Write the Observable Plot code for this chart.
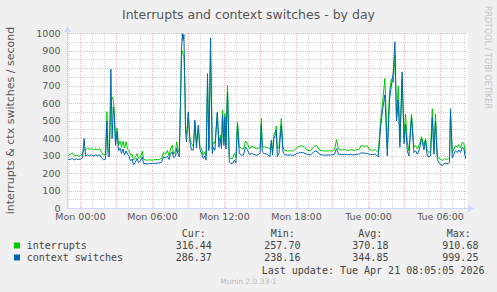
<!DOCTYPE html>
<html><head><meta charset="utf-8">
<script src="https://cdn.jsdelivr.net/npm/d3@7"></script>
<script src="https://cdn.jsdelivr.net/npm/@observablehq/plot@0.6"></script>
<style>
html,body{margin:0;padding:0;background:#F0F0F0;}
#wrap{position:relative;width:497px;height:292px;background:#F0F0F0;overflow:hidden;}
#wrap svg{position:absolute;left:0;top:0;}
</style></head><body><div id="wrap"></div>
<script>
// minutes since Mon 00:00
const minutes = [
-60,-50,-40,-30,-20,-10,0,10,18,25,
35,45,55,65,75,85,95,105,115,125,
132,138,144,152,158,164,169,175,183,190,
198,205,213,220,228,235,243,250,258,265,
273,283,290,300,309,315,330,345,360,375,
390,405,415,425,435,443,450,459,465,475,
481,489,494,500,505,509,513,517,522,525,
530,539,547,555,564,572,580,589,597,605,
614,622,628,635,642,650,659,664,672,684,
692,700,705,710,717,722,727,735,744,752,
760,769,777,785,794,805,815,825,835,845,
855,867,878,890,898,904,909,918,930,940,
947,954,960,967,974,979,984,992,1004,1012,
1020,1035,1050,1065,1084,1100,1117,1134,1150,1165,
1175,1184,1195,1210,1225,1240,1255,1270,1280,1290,
1305,1320,1335,1350,1365,1380,1395,1403,1420,1435,
1445,1460,1475,1489,1500,1510,1522,1534,1545,1554,
1564,1572,1580,1589,1597,1608,1618,1625,1634,1642,
1655,1667,1675,1685,1695,1705,1717,1725,1734,1743,
1750,1759,1767,1775,1784,1793,1809,1820,1830,1840,
1845,1850,1859,1867,1875,1884,1892,1900,1909,1917,
1925];
const interrupts = [
305,308,318,302,305,300,302,315,340,335,
345,338,342,335,340,335,342,322,305,310,
553,330,320,600,638,620,560,380,460,360,
385,350,385,345,382,340,330,305,310,276,
290,314,285,292,328,282,276,278,276,280,
280,286,320,310,332,300,340,362,310,330,
381,330,320,620,905,900,880,870,700,457,
420,540,400,371,355,490,371,465,352,343,
305,324,300,700,343,880,333,381,371,543,
381,419,360,562,381,543,362,705,295,286,
286,314,290,495,352,343,340,385,370,340,
355,352,340,345,350,514,352,352,350,345,
340,371,330,423,438,472,340,352,514,352,
333,328,330,328,350,358,355,333,330,350,
362,355,333,330,328,330,328,335,394,340,
333,338,330,336,332,335,340,360,356,358,
335,333,335,320,500,600,743,340,660,740,
720,880,520,700,380,740,400,540,380,330,
540,350,360,340,370,410,360,400,330,320,
330,570,330,540,300,285,275,285,280,285,
290,540,320,340,360,350,365,345,380,370,
316];
const contextSwitches = [
280,282,285,278,283,280,282,290,400,300,
306,302,306,300,306,302,306,290,278,282,
500,300,295,796,400,580,520,360,440,330,
345,315,340,305,330,310,298,272,282,248,
262,286,262,272,295,258,255,257,258,258,
260,262,295,288,300,280,310,324,290,300,
345,305,295,600,900,999,960,995,700,450,
380,552,380,333,335,505,345,476,340,314,
286,300,276,771,330,975,314,350,333,552,
350,400,343,533,360,524,340,667,267,257,
257,276,260,476,314,305,305,352,335,308,
315,310,305,308,318,480,324,314,312,305,
295,390,305,400,419,448,295,314,476,324,
309,305,306,304,315,320,318,309,306,322,
328,325,309,306,305,306,305,310,343,310,
309,310,307,309,306,309,312,318,316,314,
309,309,310,295,460,560,650,300,620,700,
780,952,500,620,350,780,370,480,330,300,
520,320,330,310,340,400,335,390,300,295,
300,520,310,500,280,260,244,260,257,258,
262,570,290,310,330,320,335,320,350,340,
286];

const seriesNames = ["interrupts", "context switches"];
const seriesColors = ["#00CC00", "#0066B3"];
const xTickMinutes = [0, 360, 720, 1080, 1440, 1800];
const xTickLabels = ["Mon 00:00", "Mon 06:00", "Mon 12:00", "Mon 18:00", "Tue 00:00", "Tue 06:00"];
const yTicks = [0, 100, 200, 300, 400, 500, 600, 700, 800, 900, 1000];
const xDomain = [-65, 1935];
const yDomain = [0, 1000];
const statHeaders = ["Cur:", "Min:", "Avg:", "Max:"];
const statsInterrupts = ["316.44", "257.70", "370.18", "910.68"];
const statsContext = ["286.37", "238.16", "344.85", "999.25"];
const titleText = "Interrupts and context switches - by day";
const yLabelText = "interrupts & ctx switches / second";
const lastUpdate = "Last update: Tue Apr 21 08:05:05 2026";
const footer = "Munin 2.0.33-1";
const watermark = "RRDTOOL / TOBI OETIKER";

const rowsI = minutes.map((m, i) => ({m, v: interrupts[i]}));
const rowsC = minutes.map((m, i) => ({m, v: contextSwitches[i]}));

const minorX = d3.range(-60, xDomain[1], 60).filter(m => m % 180 !== 0);
const majorX = d3.range(0, xDomain[1], 180);
const minorY = d3.range(50, 1000, 100);
const majorY = d3.range(100, 1001, 100);

const gridGray = "rgba(150,150,150,0.4)";
const gridRed = "rgba(255,60,60,0.38)";

const chart = Plot.plot({
  width: 497, height: 292,
  marginLeft: 67, marginRight: 30, marginTop: 33, marginBottom: 84,
  style: {fontFamily: "DejaVu Sans", fontSize: "9.5px", color: "#555", background: "transparent"},
  x: {domain: xDomain},
  y: {domain: yDomain},
  marks: [
    Plot.frame({fill: "white", stroke: "none"}),
    Plot.ruleX(minorX, {stroke: gridGray, strokeDasharray: "1,1", shapeRendering: "crispEdges"}),
    Plot.ruleY(minorY, {stroke: gridGray, strokeDasharray: "1,1", shapeRendering: "crispEdges"}),
    Plot.ruleX(majorX, {stroke: gridRed, strokeDasharray: "1,1", shapeRendering: "crispEdges"}),
    Plot.ruleY(majorY, {stroke: gridRed, strokeDasharray: "1,1", shapeRendering: "crispEdges"}),
    Plot.lineY(rowsI, {x: "m", y: "v", stroke: seriesColors[0], strokeWidth: 1}),
    Plot.lineY(rowsC, {x: "m", y: "v", stroke: seriesColors[1], strokeWidth: 1}),
    Plot.axisX({ticks: xTickMinutes, tickFormat: (d) => xTickLabels[xTickMinutes.indexOf(d)], tickSize: 0, tickPadding: 5, label: null}),
    Plot.axisY({ticks: yTicks, tickFormat: (d) => String(d), tickSize: 0, tickPadding: 7, label: null})
  ]
});
document.getElementById("wrap").appendChild(chart);

const sx = chart.scale("x"), sy = chart.scale("y");
const svg = d3.select(chart);
const axisColor = "#CFD6F8";
const x0 = sx.apply(xDomain[0]), x1 = sx.apply(xDomain[1]);
const y0 = sy.apply(yDomain[0]), y1 = sy.apply(yDomain[1]);
// axes
svg.append("line").attr("x1", x0).attr("x2", x1 + 2).attr("y1", y0 + 0.5).attr("y2", y0 + 0.5).attr("stroke", axisColor);
svg.append("line").attr("x1", x0 + 0.5).attr("x2", x0 + 0.5).attr("y1", y0).attr("y2", y1 - 2).attr("stroke", axisColor);
svg.append("path").attr("d", `M${x1 + 1},${y0 - 3}L${x1 + 7},${y0 + 0.5}L${x1 + 1},${y0 + 4}Z`).attr("fill", axisColor);
svg.append("path").attr("d", `M${x0 - 3},${y1 - 1}L${x0 + 0.5},${y1 - 7}L${x0 + 4},${y1 - 1}Z`).attr("fill", axisColor);

const txt = (x, y, s, opts = {}) => svg.append("text").attr("x", x).attr("y", y)
  .attr("font-family", opts.family || "DejaVu Sans Mono").attr("font-size", opts.size || "10px")
  .attr("fill", opts.fill || "#444").attr("text-anchor", opts.anchor || "start").attr("xml:space", "preserve").text(s);

// title
txt(248.5, 18.5, titleText, {family: "DejaVu Sans", size: "12.5px", fill: "#555", anchor: "middle"});
// y label
svg.append("text").attr("transform", `translate(14,${(y0 + y1) / 2}) rotate(-90)`)
  .attr("text-anchor", "middle").attr("font-family", "DejaVu Sans").attr("font-size", "11px").attr("fill", "#555").text(yLabelText);
// watermark
svg.append("text").attr("transform", "translate(485,6) rotate(90)").attr("text-anchor", "start")
  .attr("font-family", "DejaVu Sans").attr("font-size", "8px").attr("fill", "#C4C4C4").text(watermark);

// legend
const headerX = [181.7, 270.7, 358.3, 446.7];
const valueX = [175.7, 264.3, 352.3, 442.3];
statHeaders.forEach((h, i) => txt(headerX[i], 237, h));
const rowsY = [249, 261];
[statsInterrupts, statsContext].forEach((vals, r) => {
  svg.append("rect").attr("x", 14).attr("y", rowsY[r] - 6.5).attr("width", 6).attr("height", 6).attr("fill", seriesColors[r]);
  txt(26.7, rowsY[r], seriesNames[r]);
  vals.forEach((v, i) => txt(valueX[i], rowsY[r], v));
});
txt(261.7, 273.5, lastUpdate);
txt(248.5, 283.5, footer, {family: "DejaVu Sans", size: "7.5px", fill: "#BBB", anchor: "middle"});
</script>
</body></html>
